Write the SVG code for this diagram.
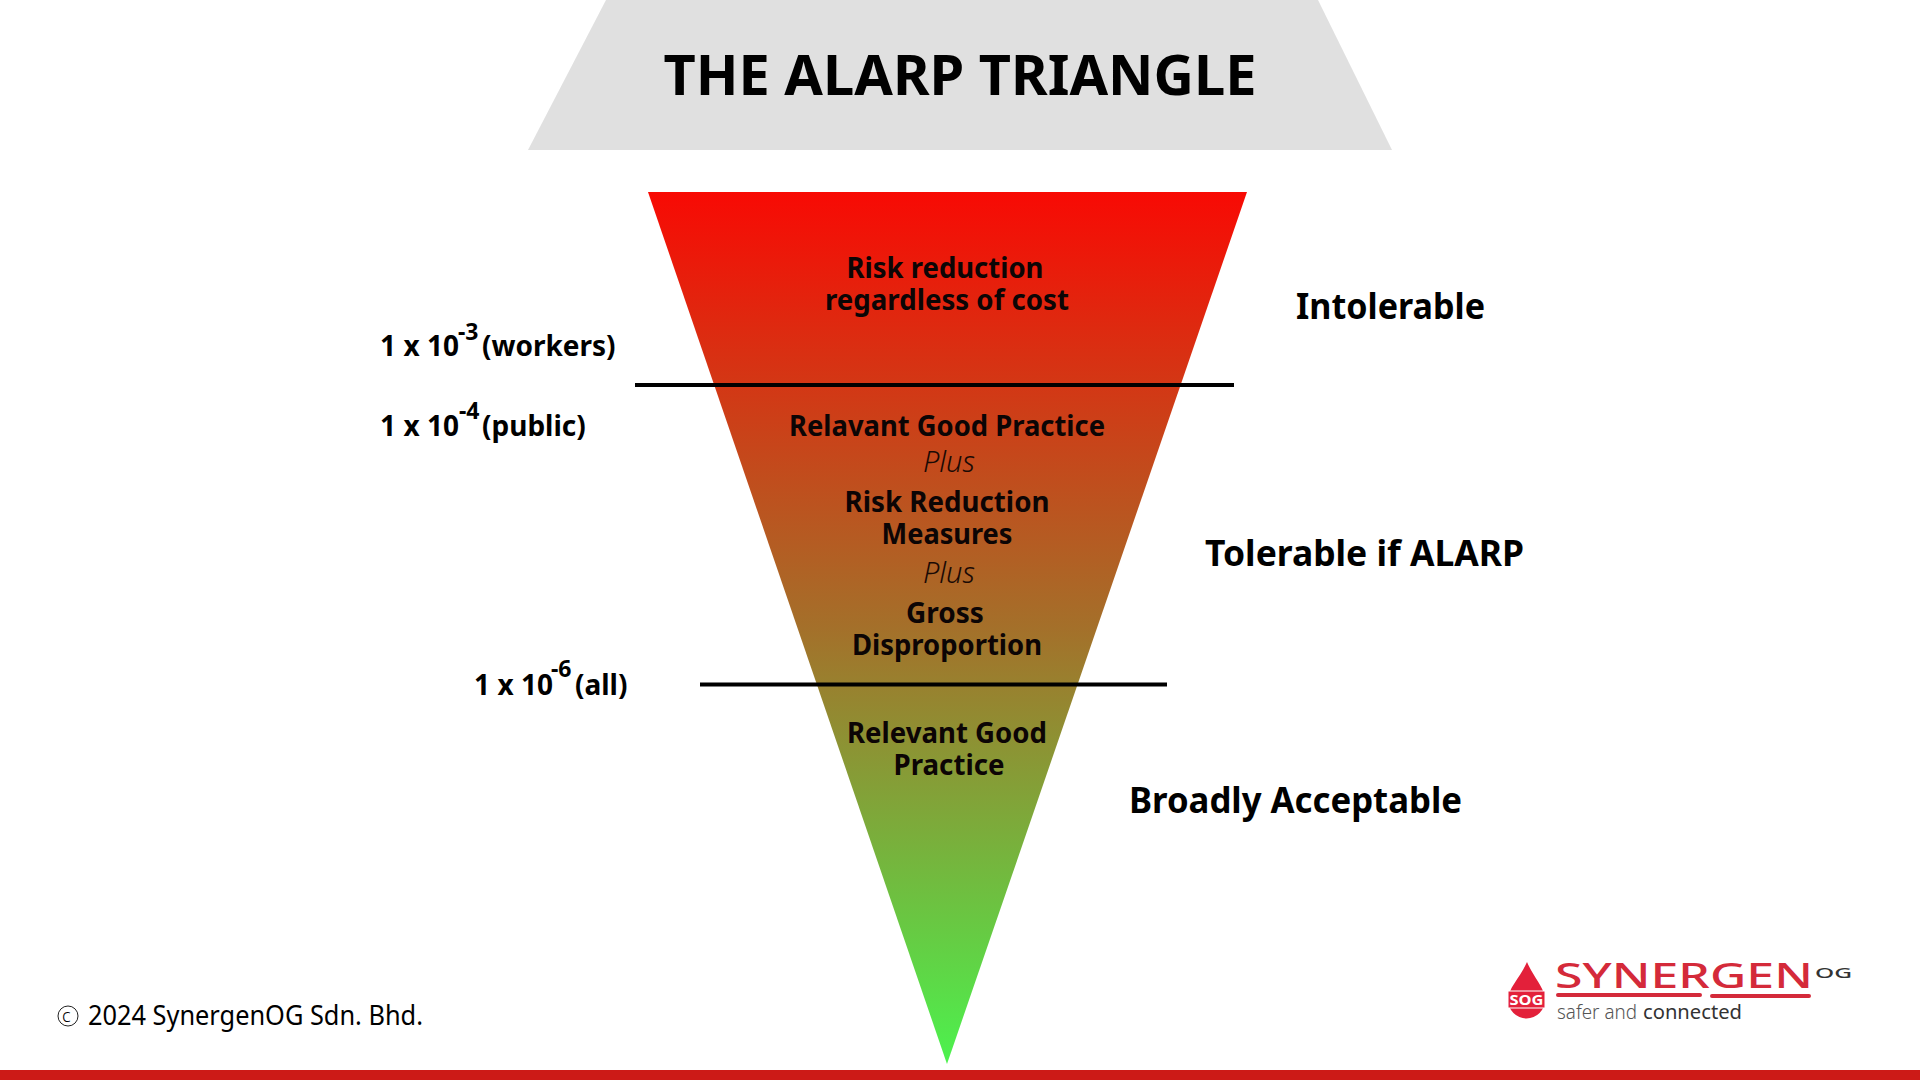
<svg xmlns="http://www.w3.org/2000/svg" width="1920" height="1080" viewBox="0 0 1920 1080">
<style>
text{font-family:"Noto Sans","Open Sans","Liberation Sans",sans-serif;fill:#000}
.b{font-weight:700;font-size:28px;text-anchor:middle;fill:#0c0505}
.i{font-style:italic;font-weight:300;font-size:29px;text-anchor:middle;fill:#1a0a05}
.z{font-weight:700;font-size:36px}
.s{font-weight:700;font-size:28px}
.u{font-weight:700;font-size:23px}
</style>
<defs><linearGradient id="g" x1="0" y1="0" x2="0" y2="1"><stop offset="0" stop-color="#f80a04"/><stop offset="0.5" stop-color="#a4702a"/><stop offset="1" stop-color="#4cf24e"/></linearGradient></defs>
<rect width="1920" height="1080" fill="#fff"/>
<g id="title"><polygon points="606,0 1318,0 1392,150 528,150" fill="#e0e0e0"/>
<text x="960" y="95" text-anchor="middle" font-weight="700" font-size="55" textLength="593" lengthAdjust="spacingAndGlyphs">THE ALARP TRIANGLE</text></g>
<g id="triangle"><polygon points="648,192 1247,192 947,1064" fill="url(#g)"/></g>
<g id="connectors" stroke="#000" stroke-width="4"><line x1="635" y1="385" x2="1234" y2="385"/><line x1="700" y1="684.500" x2="1167" y2="684.500"/></g>
<g id="inner-intolerable"><text class="b" x="945" y="278" textLength="197" lengthAdjust="spacingAndGlyphs">Risk reduction</text><text class="b" x="947" y="310" textLength="244" lengthAdjust="spacingAndGlyphs">regardless of cost</text></g>
<g id="inner-alarp"><text class="b" x="947" y="436" textLength="316" lengthAdjust="spacingAndGlyphs">Relavant Good Practice</text><text class="i" x="949" y="472">Plus</text>
<text class="b" x="947" y="512" textLength="205" lengthAdjust="spacingAndGlyphs">Risk Reduction</text><text class="b" x="947" y="544" textLength="131" lengthAdjust="spacingAndGlyphs">Measures</text><text class="i" x="949" y="583">Plus</text>
<text class="b" x="945" y="623">Gross</text><text class="b" x="947" y="655" textLength="190" lengthAdjust="spacingAndGlyphs">Disproportion</text></g>
<g id="inner-acceptable"><text class="b" x="947" y="743" textLength="200" lengthAdjust="spacingAndGlyphs">Relevant Good</text><text class="b" x="949" y="775" textLength="111" lengthAdjust="spacingAndGlyphs">Practice</text></g>
<g id="zone-intolerable"><text class="z" x="1296" y="319" textLength="189" lengthAdjust="spacingAndGlyphs">Intolerable</text></g>
<g id="zone-tolerable"><text class="z" x="1205" y="566" textLength="319" lengthAdjust="spacingAndGlyphs">Tolerable if ALARP</text></g>
<g id="zone-acceptable"><text class="z" x="1129" y="813" textLength="333" lengthAdjust="spacingAndGlyphs">Broadly Acceptable</text></g>
<g id="risk-workers"><text class="s" x="380" y="356" textLength="79">1 x 10</text><text class="u" x="458" y="340">-3</text><text class="s" x="482" y="356">(workers)</text></g>
<g id="risk-public"><text class="s" x="380" y="436" textLength="79">1 x 10</text><text class="u" x="459" y="419">-4</text><text class="s" x="482" y="436">(public)</text></g>
<g id="risk-all"><text class="s" x="474" y="695" textLength="79">1 x 10</text><text class="u" x="551" y="677">-6</text><text class="s" x="575" y="695">(all)</text></g>
<g id="copyright"><circle cx="68" cy="1016" r="10" fill="none" stroke="#222" stroke-width="1"/><text x="62" y="1022" font-size="18" font-weight="300">c</text><text x="88" y="1025" font-size="27" font-weight="400" textLength="335" lengthAdjust="spacingAndGlyphs">2024 SynergenOG Sdn. Bhd.</text></g>
<g id="logo">
<path d="M1527,962 C1534,978 1545,988 1545,1000 A18,18 0 0 1 1508,1000 C1508,988 1520,978 1527,962Z" fill="#e3203a"/>
<rect x="1508" y="991" width="37" height="17" fill="#e3203a" stroke="#fff" stroke-width="1"/>
<text x="1526.500" y="1005" text-anchor="middle" font-size="14" font-weight="700" style="fill:#fff" textLength="34" lengthAdjust="spacingAndGlyphs">SOG</text>
<text x="1555" y="988" font-size="35" font-weight="500" style="fill:#d42a3a" textLength="258" lengthAdjust="spacingAndGlyphs">SYNERGEN</text>
<path d="M1558,995 H1700 M1712,996 H1809" stroke="#d42a3a" stroke-width="4" stroke-linecap="round" fill="none"/>
<text x="1815" y="978" font-size="15" font-weight="500" style="fill:#333" textLength="37" lengthAdjust="spacingAndGlyphs">OG</text>
<text x="1557" y="1019" font-size="20" font-weight="300" style="fill:#555" textLength="80" lengthAdjust="spacingAndGlyphs">safer and</text>
<text x="1643" y="1019" font-size="20" font-weight="400" style="fill:#333" textLength="99" lengthAdjust="spacingAndGlyphs">connected</text>
</g>
<rect id="footer" x="0" y="1070" width="1920" height="10" fill="#cc1a17"/>
</svg>
